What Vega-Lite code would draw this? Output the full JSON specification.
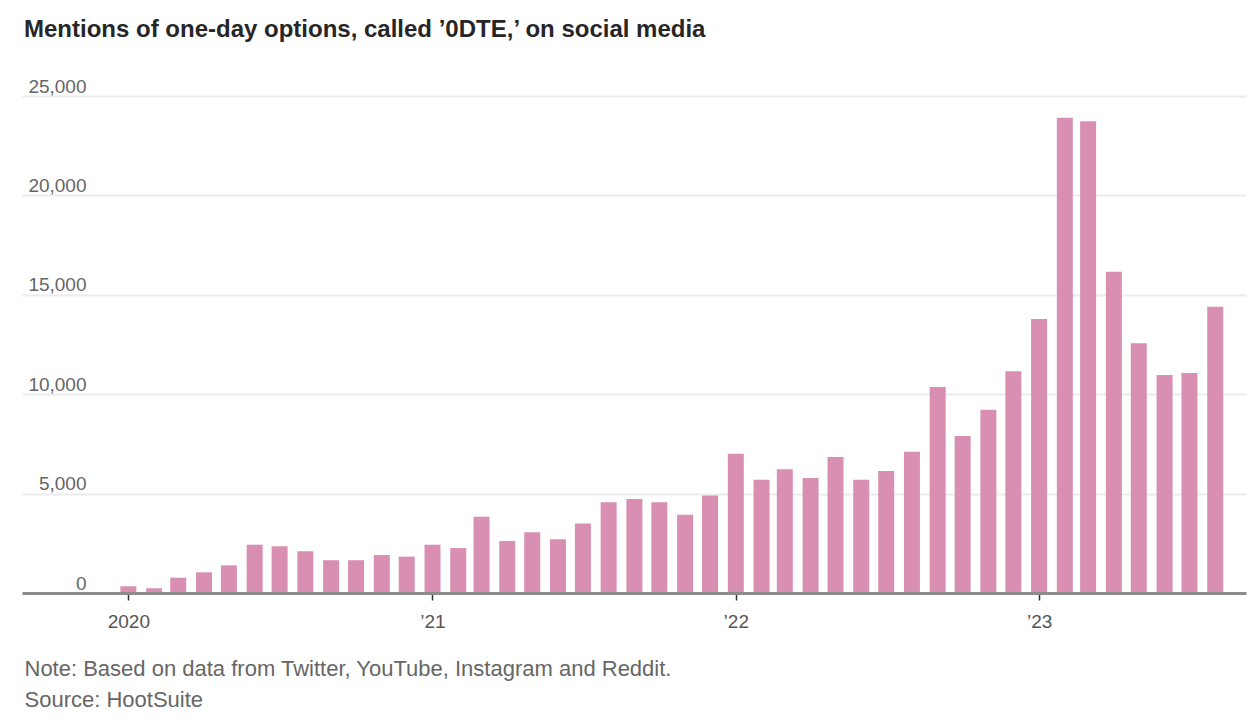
{
  "$schema": "https://vega.github.io/schema/vega-lite/v6.json",
  "width": 1224,
  "height": 497,
  "autosize": {"type": "none"},
  "padding": {"left": 22, "top": 96, "right": 5, "bottom": 126},
  "background": "white",
  "title": {
    "text": "Mentions of one-day options, called ’0DTE,’ on social media",
    "anchor": "start",
    "frame": "group",
    "offset": 35,
    "dx": 2,
    "fontSize": 24,
    "fontWeight": "bold",
    "color": "#262626",
    "font": "Liberation Sans, Arial, sans-serif"
  },
  "data": {
    "values": [
      {"month": "2020-01-01", "mentions": 340},
      {"month": "2020-02-01", "mentions": 240},
      {"month": "2020-03-01", "mentions": 770},
      {"month": "2020-04-01", "mentions": 1040},
      {"month": "2020-05-01", "mentions": 1390},
      {"month": "2020-06-01", "mentions": 2430},
      {"month": "2020-07-01", "mentions": 2350},
      {"month": "2020-08-01", "mentions": 2100},
      {"month": "2020-09-01", "mentions": 1650},
      {"month": "2020-10-01", "mentions": 1650},
      {"month": "2020-11-01", "mentions": 1910},
      {"month": "2020-12-01", "mentions": 1830},
      {"month": "2021-01-01", "mentions": 2430},
      {"month": "2021-02-01", "mentions": 2260},
      {"month": "2021-03-01", "mentions": 3840},
      {"month": "2021-04-01", "mentions": 2615},
      {"month": "2021-05-01", "mentions": 3050},
      {"month": "2021-06-01", "mentions": 2700},
      {"month": "2021-07-01", "mentions": 3500},
      {"month": "2021-08-01", "mentions": 4560},
      {"month": "2021-09-01", "mentions": 4730},
      {"month": "2021-10-01", "mentions": 4560},
      {"month": "2021-11-01", "mentions": 3940},
      {"month": "2021-12-01", "mentions": 4910},
      {"month": "2022-01-01", "mentions": 7010},
      {"month": "2022-02-01", "mentions": 5700},
      {"month": "2022-03-01", "mentions": 6220},
      {"month": "2022-04-01", "mentions": 5785},
      {"month": "2022-05-01", "mentions": 6840},
      {"month": "2022-06-01", "mentions": 5700},
      {"month": "2022-07-01", "mentions": 6140},
      {"month": "2022-08-01", "mentions": 7110},
      {"month": "2022-09-01", "mentions": 10360},
      {"month": "2022-10-01", "mentions": 7900},
      {"month": "2022-11-01", "mentions": 9220},
      {"month": "2022-12-01", "mentions": 11150},
      {"month": "2023-01-01", "mentions": 13780},
      {"month": "2023-02-01", "mentions": 23910},
      {"month": "2023-03-01", "mentions": 23730},
      {"month": "2023-04-01", "mentions": 16160},
      {"month": "2023-05-01", "mentions": 12560},
      {"month": "2023-06-01", "mentions": 10970},
      {"month": "2023-07-01", "mentions": 11070},
      {"month": "2023-08-01", "mentions": 14400}
    ]
  },
  "mark": {"type": "bar", "width": 16, "color": "#d98fb2"},
  "encoding": {
    "x": {
      "field": "month",
      "type": "temporal",
      "scale": {
        "type": "utc",
        "domain": [
          {"year": 2019, "month": 9, "date": 1, "utc": true},
          {"year": 2023, "month": 9, "date": 1, "utc": true}
        ]
      },
      "axis": {
        "values": [
          {"year": 2020, "month": 1, "date": 1, "utc": true},
          {"year": 2021, "month": 1, "date": 1, "utc": true},
          {"year": 2022, "month": 1, "date": 1, "utc": true},
          {"year": 2023, "month": 1, "date": 1, "utc": true}
        ],
        "labelExpr": "utcFormat(datum.value, '%Y') == '2020' ? '2020' : '’' + utcFormat(datum.value, '%y')",
        "grid": false,
        "zindex": 1,
        "domainColor": "#8c8c8c",
        "domainWidth": 3,
        "tickColor": "#333333",
        "tickSize": 7,
        "tickWidth": 1.5,
        "labelFontSize": 19,
        "labelColor": "#555555",
        "labelPadding": 12,
        "labelFont": "Liberation Sans, Arial, sans-serif",
        "title": ["Note: Based on data from Twitter, YouTube, Instagram and Reddit.", "Source: HootSuite"],
        "titleFont": "Liberation Sans, Arial, sans-serif",
        "titleFontSize": 22,
        "titleFontWeight": "normal",
        "titleColor": "#666666",
        "titleAnchor": "start",
        "titleAlign": "left",
        "titleBaseline": "alphabetic",
        "titleX": 2,
        "titleY": 82,
        "titleLineHeight": 31
      }
    },
    "y": {
      "field": "mentions",
      "type": "quantitative",
      "scale": {"domain": [0, 25000], "nice": false},
      "axis": {
        "values": [0, 5000, 10000, 15000, 20000, 25000],
        "format": ",d",
        "title": null,
        "domain": false,
        "ticks": false,
        "grid": true,
        "gridColor": "#ececec",
        "gridWidth": 2,
        "labelAlign": "right",
        "labelBaseline": "bottom",
        "labelPadding": -64,
        "labelFontSize": 19,
        "labelColor": "#666666",
        "labelFont": "Liberation Sans, Arial, sans-serif",
        "zindex": 0
      }
    }
  },
  "config": {
    "view": {"stroke": null}
  }
}
